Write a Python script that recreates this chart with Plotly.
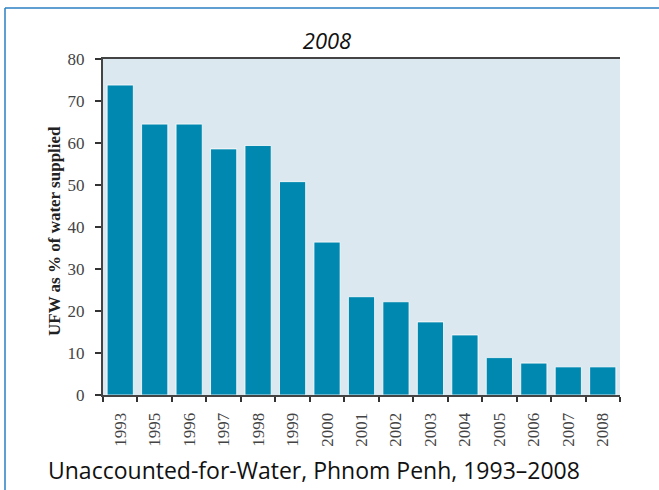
import plotly.graph_objects as go

years = ["1993", "1995", "1996", "1997", "1998", "1999", "2000", "2001",
         "2002", "2003", "2004", "2005", "2006", "2007", "2008"]
ufw_pct = [73.8, 64.5, 64.5, 58.6, 59.4, 50.8, 36.4, 23.4,
           22.2, 17.4, 14.3, 8.9, 7.6, 6.7, 6.7]
y_ticks = [0, 10, 20, 30, 40, 50, 60, 70, 80]

title_text = "2008"
y_title = "UFW as % of water supplied"
caption = "Unaccounted-for-Water, Phnom Penh, 1993\u20132008"

W, H = 659, 490
PL, PR, PT, PB = 103, 620, 59, 395          # plot area in page pixels
L, T, R, B = PL, PT, W - PR, H - PB
pw, ph = W - L - R, H - T - B

def px_x(x):
    return (x - L) / pw

def px_y(y):
    return (PB - y) / ph

fig = go.Figure(go.Bar(
    x=years, y=ufw_pct,
    marker=dict(color="#0088b0", line=dict(color="rgba(255,255,255,0.8)", width=1)),
))

fig.update_layout(
    width=W, height=H,
    margin=dict(l=L, r=R, t=T, b=B),
    paper_bgcolor="white",
    plot_bgcolor="#dbe8ef",
    bargap=0.24,
    showlegend=False,
    title=dict(text=title_text, x=327 / W, xref="container", xanchor="center",
               y=1 - 41 / H, yref="container", yanchor="middle",
               font=dict(family="Open Sans", size=22, color="#111", style="italic")),
    xaxis=dict(
        type="category", tickangle=-90, tickson="boundaries",
        ticks="outside", ticklen=5, tickwidth=1.5, tickcolor="#333",
        showline=True, linecolor="#444", linewidth=2, mirror=True,
        showgrid=False, zeroline=False, ticklabelstandoff=9,
        tickfont=dict(family="Liberation Serif", size=17, color="#444"),
    ),
    yaxis=dict(
        range=[0, 80], tickvals=y_ticks,
        ticks="outside", ticklen=6, tickwidth=1.5, tickcolor="#333",
        showline=True, linecolor="#444", linewidth=2,
        showgrid=False, zeroline=False, ticklabelstandoff=7,
        tickfont=dict(family="Liberation Serif", size=17, color="#444"),
    ),
    annotations=[
        dict(text=y_title, xref="paper", yref="paper",
             x=px_x(54), y=px_y(231), xanchor="center", yanchor="middle",
             textangle=-90, showarrow=False,
             font=dict(family="Liberation Serif", size=17, color="#222", weight="bold")),
        dict(text=caption, xref="paper", yref="paper",
             x=px_x(46), y=px_y(470), xanchor="left", yanchor="middle",
             showarrow=False,
             font=dict(family="Open Sans", size=23, color="#111")),
    ],
    shapes=[
        dict(type="line", xref="paper", yref="paper",
             x0=px_x(5), x1=px_x(700), y0=px_y(8), y1=px_y(8),
             line=dict(color="#2b7fc2", width=1.5)),
        dict(type="line", xref="paper", yref="paper",
             x0=px_x(5), x1=px_x(5), y0=px_y(8), y1=px_y(520),
             line=dict(color="#2b7fc2", width=1.5)),
    ],
)

# remove the browser's default 8px body margin so the figure sits at (0, 0)
fig.write_html("out.html",
               config={"displayModeBar": False},
               post_script="document.body.style.margin='0';document.body.style.overflow='hidden';")
